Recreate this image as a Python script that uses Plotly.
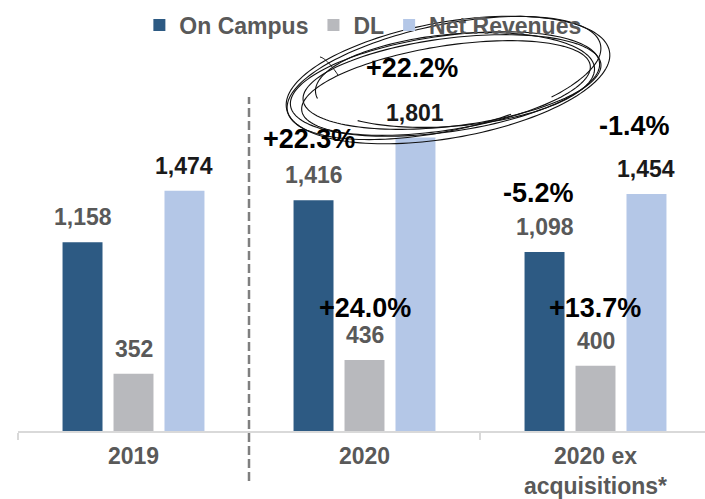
import numpy as np
import plotly.graph_objects as go

# ---------------- data ----------------
categories = ["2019", "2020", "2020 ex<br>acquisitions*"]
series_names = ["On Campus", "DL", "Net Revenues"]
on_campus = [1158, 1416, 1098]
dl = [352, 436, 400]
net_revenues = [1474, 1801, 1454]
pct_on_campus = [None, "+22.3%", "-5.2%"]
pct_dl = [None, "+24.0%", "+13.7%"]
pct_net = [None, "+22.2%", "-1.4%"]

# ---------------- style ----------------
W, H = 705, 499
M_L, M_R, M_T, M_B = 18, 0, 40, 68
colors = ["#2d5a83", "#b8b9bd", "#b4c7e7"]
label_colors = ["#595959", "#595959", "#1a1a1a"]
FONT = "Liberation Sans, Arial, sans-serif"
bargap, bargroupgap = 0.338, 0.216
cat_px = 231.0
x_right = -0.5 + (W - M_L - M_R) / cat_px
y_max = 2400
value_shift = 25
# pixel offsets (dx, dy above bar top) for growth labels
pct_offsets = [
    [None, (-4.5, 61), (-6, 59)],
    [None, (0, 52), (-1, 58)],
    [None, (-3.5, 70), (-11.5, 68.5)],
]

series_values = [on_campus, dl, net_revenues]
series_pcts = [pct_on_campus, pct_dl, pct_net]

fig = go.Figure()
for name, vals, col in zip(series_names, series_values, colors):
    fig.add_trace(go.Bar(name=name, x=categories, y=vals, marker=dict(color=col, line=dict(width=0)),
                         hoverinfo="skip"))

slot = (1 - bargap) / 3.0
annotations = []
for s, (vals, pcts) in enumerate(zip(series_values, series_pcts)):
    off = (s - 1) * slot
    for i, v in enumerate(vals):
        annotations.append(dict(
            x=i + off, y=v, xref="x", yref="y", text=f"{v:,}", showarrow=False,
            yanchor="middle", xanchor="center", yshift=value_shift,
            font=dict(family=FONT, size=23, color=label_colors[s], weight="bold")))
        if pcts[i] is not None:
            dx, dy = pct_offsets[s][i]
            annotations.append(dict(
                x=i + off, y=v, xref="x", yref="y", text=pcts[i], showarrow=False,
                yanchor="middle", xanchor="center", yshift=dy, xshift=dx,
                font=dict(family=FONT, size=27, color="#000000", weight="bold")))

# helpers to convert pixels to paper coordinates
PW = W - M_L - M_R
PH = H - M_T - M_B


def px2paper(px, py):
    return (px - M_L) / PW, (H - M_B - py) / PH


def ellipse_path(cx, cy, rx, ry, ang_deg, t0, turns):
    t = np.linspace(t0, t0 + 2 * np.pi * turns, 160)
    a = np.deg2rad(ang_deg)
    xs = cx + rx * np.cos(t) * np.cos(a) - ry * np.sin(t) * np.sin(a)
    ys = cy + rx * np.cos(t) * np.sin(a) + ry * np.sin(t) * np.cos(a)
    pts = [px2paper(x, y) for x, y in zip(xs, ys)]
    return "M " + " L ".join(f"{x:.5f},{y:.5f}" for x, y in pts)


shapes = []
# dashed separator between 2019 and 2020
y0p = px2paper(0, 481)[1]
y1p = px2paper(0, 97)[1]
shapes.append(dict(type="line", xref="x", yref="paper", x0=0.5, x1=0.5, y0=y0p, y1=y1p,
                   line=dict(color="#7f7f7f", width=2.5, dash="9px,4px"), layer="above"))

# hand-drawn scribble loops
loops = [
    (448, 80, 164, 58, -10, 0.3, 1.05),
    (445, 84, 156, 48, -8, 2.0, 1.0),
    (452, 82, 150, 44, -7, 4.0, 1.05),
    (446, 88, 146, 42, -9, 5.0, 1.0),
    (444, 78, 160, 53, -12, 1.2, 0.95),
    (455, 80, 140, 46, -5, 3.0, 0.9),
]
for cx, cy, rx, ry, ang, t0, turns in loops:
    shapes.append(dict(type="path", xref="paper", yref="paper",
                       path=ellipse_path(cx, cy, rx, ry, ang, t0, turns),
                       line=dict(color="#111111", width=1.1), layer="above"))
# small hook
hx = np.linspace(0, 1, 20)
hook = [px2paper(320 + 18 * u, 57 + 18 * u ** 1.5) for u in hx]
shapes.append(dict(type="path", xref="paper", yref="paper",
                   path="M " + " L ".join(f"{x:.5f},{y:.5f}" for x, y in hook),
                   line=dict(color="#111111", width=1.0), layer="above"))

fig.update_layout(
    width=W, height=H,
    margin=dict(l=M_L, r=M_R, t=M_T, b=M_B, pad=0),
    paper_bgcolor="white", plot_bgcolor="white",
    barmode="group", bargap=bargap, bargroupgap=bargroupgap,
    font=dict(family=FONT, size=23, color="#595959"),
    showlegend=True,
    legend=dict(orientation="h", x=0.502, xanchor="center", y=px2paper(0, 25)[1], yanchor="middle",
                font=dict(family=FONT, size=23, color="#595959", weight="bold"),
                itemclick=False, itemdoubleclick=False, traceorder="normal",
                bgcolor="rgba(0,0,0,0)", itemwidth=30, tracegroupgap=0),
    xaxis=dict(type="category", range=[-0.5, x_right], showline=True, linecolor="#d9d9d9",
               linewidth=1.5, ticks="outside", tickson="boundaries", ticklen=7,
               tickcolor="#d9d9d9", tickwidth=1.5, showgrid=False, zeroline=False,
               tickfont=dict(family=FONT, size=23, color="#595959", weight="bold"),
               ticklabelstandoff=4, fixedrange=True),
    yaxis=dict(range=[0, y_max], visible=False, showgrid=False, zeroline=False, fixedrange=True),
    annotations=annotations,
    shapes=shapes,
)

fig.write_html("out.html", config={"displayModeBar": False},
               post_script="document.body.style.margin='0';document.body.style.padding='0';"
                           "document.body.style.overflow='hidden';")
